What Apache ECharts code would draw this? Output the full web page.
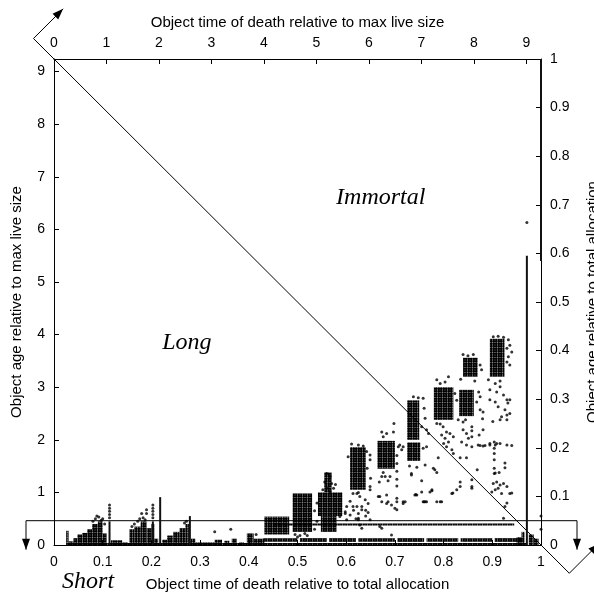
<!DOCTYPE html>
<html>
<head>
<meta charset="utf-8">
<script src="https://cdn.jsdelivr.net/npm/echarts@6/dist/echarts.min.js"></script>
<style>
  html, body { margin: 0; padding: 0; background: #fff; }
  #chart { width: 594px; height: 593px; }
</style>
</head>
<body>
<div id="chart"></div>
<script>
// Axis extents: death time / age relative to total allocation (0..1)
// and relative to max live size (0..~9.25).
const maxLiveTop = 9.28;
const maxLiveLeft = 9.24;

// Dense regions of objects: [deathTime0, deathTime1, age0, age1] (age in max-live units)
const denseBlocks = [
  [0.026, 0.970, 0.00, 0.04],
  [0.025, 0.030, 0.00, 0.27],
  [0.030, 0.040, 0.00, 0.07],
  [0.040, 0.048, 0.00, 0.13],
  [0.048, 0.058, 0.00, 0.20],
  [0.058, 0.068, 0.00, 0.23],
  [0.068, 0.078, 0.00, 0.30],
  [0.078, 0.090, 0.00, 0.40],
  [0.090, 0.100, 0.00, 0.45],
  [0.100, 0.108, 0.00, 0.22],
  [0.117, 0.140, 0.00, 0.09],
  [0.140, 0.152, 0.00, 0.05],
  [0.155, 0.165, 0.00, 0.30],
  [0.165, 0.178, 0.00, 0.35],
  [0.178, 0.190, 0.00, 0.45],
  [0.190, 0.200, 0.00, 0.32],
  [0.200, 0.206, 0.00, 0.40],
  [0.206, 0.214, 0.00, 0.12],
  [0.222, 0.232, 0.00, 0.10],
  [0.232, 0.245, 0.00, 0.18],
  [0.245, 0.258, 0.00, 0.25],
  [0.258, 0.270, 0.00, 0.32],
  [0.270, 0.277, 0.00, 0.40],
  [0.281, 0.290, 0.00, 0.12],
  [0.290, 0.330, 0.00, 0.05],
  [0.330, 0.345, 0.00, 0.10],
  [0.350, 0.360, 0.00, 0.08],
  [0.365, 0.375, 0.00, 0.12],
  [0.380, 0.390, 0.00, 0.05],
  [0.396, 0.410, 0.00, 0.22],
  [0.410, 0.432, 0.00, 0.12],
  [0.430, 0.500, 0.06, 0.13],
  [0.505, 0.560, 0.06, 0.13],
  [0.565, 0.620, 0.06, 0.13],
  [0.625, 0.700, 0.06, 0.13],
  [0.705, 0.760, 0.06, 0.13],
  [0.765, 0.830, 0.06, 0.13],
  [0.835, 0.900, 0.06, 0.13],
  [0.905, 0.965, 0.06, 0.13],
  [0.450, 0.945, 0.37, 0.41],
  [0.432, 0.483, 0.20, 0.54],
  [0.490, 0.530, 0.25, 0.98],
  [0.542, 0.592, 0.55, 1.00],
  [0.548, 0.580, 0.25, 0.55],
  [0.555, 0.570, 1.00, 1.38],
  [0.608, 0.640, 1.05, 1.86],
  [0.664, 0.700, 1.45, 1.98],
  [0.725, 0.750, 2.00, 2.75],
  [0.725, 0.752, 1.60, 1.95],
  [0.780, 0.820, 2.38, 3.00],
  [0.832, 0.862, 2.45, 2.95],
  [0.840, 0.870, 3.20, 3.56],
  [0.895, 0.925, 3.20, 3.92],
  [0.950, 0.960, 0.00, 0.15],
  [0.960, 0.966, 0.00, 0.25],
  [0.975, 0.985, 0.00, 0.20],
  [0.985, 0.995, 0.00, 0.12]
];

// Narrow runs of objects at one death time: [deathTime, age0, age1]
const columns = [
  [0.114, 0.00, 0.45],
  [0.203, 0.00, 0.45],
  [0.218, 0.00, 0.91],
  [0.279, 0.00, 0.55],
  [0.971, 0.00, 5.50],
  [1.000, 5.40, 9.24]
];

// Isolated objects: [deathTime, age]
const scatteredPoints = [
  [0.080,0.45],[0.085,0.50],[0.088,0.55],[0.092,0.53],[0.097,0.47],[0.100,0.50],[0.104,0.40],
  [0.114,0.52],[0.114,0.58],[0.114,0.64],[0.114,0.70],[0.114,0.76],
  [0.160,0.35],[0.165,0.40],[0.172,0.45],[0.176,0.50],[0.183,0.52],[0.187,0.48],[0.180,0.60],[0.190,0.60],[0.190,0.67],
  [0.203,0.52],[0.203,0.58],[0.203,0.64],[0.203,0.70],[0.203,0.76],
  [0.268,0.42],[0.272,0.45],[0.330,0.25],[0.363,0.30],[0.415,0.20],
  [0.495,0.20],[0.505,0.18],[0.515,0.22],[0.500,0.15],[0.520,0.18],[0.535,0.30],[0.540,0.45],[0.535,0.65],[0.540,0.80],
  [0.560,1.36],[0.567,1.30],[0.556,1.20],[0.570,1.17],[0.560,1.08],[0.567,1.01],[0.574,1.08],[0.552,1.05],[0.578,1.15],
  [0.587,0.54],[0.598,0.63],[0.601,0.48],[0.608,0.57],[0.625,0.48],[0.628,0.38],[0.632,0.32],[0.649,0.48],[0.669,0.35],[0.693,0.19],
  [0.615,0.66],[0.625,0.60],[0.640,0.55],[0.645,0.62],[0.620,0.50],[0.625,0.51],[0.673,0.32],
  [0.611,1.92],[0.625,1.90],[0.635,1.88],[0.642,1.78],[0.604,1.68],[0.649,1.71],[0.649,1.62],
  [0.643,1.46],[0.650,1.27],[0.649,1.11],[0.625,1.00],[0.614,0.98],
  [0.622,0.98],[0.628,0.92],[0.639,0.86],[0.645,0.79],[0.622,0.73],[0.632,0.67],[0.601,0.73],[0.598,0.60],
  [0.608,0.83],[0.614,0.73],[0.632,0.73],[0.640,0.66],
  [0.673,2.15],[0.676,2.06],[0.683,2.12],[0.697,2.15],[0.698,2.31],[0.707,1.87],[0.710,1.90],[0.714,1.81],
  [0.673,1.30],[0.680,1.30],[0.676,1.38],[0.690,1.30],[0.668,1.20],[0.686,1.22],
  [0.704,1.70],[0.704,1.55],[0.704,1.40],[0.704,1.25],[0.704,1.12],
  [0.649,1.05],[0.666,0.92],[0.673,0.82],[0.683,0.79],[0.693,0.76],[0.704,0.67],[0.717,0.82],
  [0.669,0.92],[0.683,0.95],[0.686,0.82],[0.704,0.82],[0.700,0.70],[0.717,0.79],[0.704,0.89],
  [0.745,0.95],[0.758,0.82],[0.776,1.05],[0.786,0.82],[0.817,0.98],[0.827,1.05],[0.834,1.11],
  [0.721,0.82],[0.743,0.96],[0.760,0.82],[0.765,0.82],[0.776,1.03],[0.793,0.82],[0.819,0.99],
  [0.834,1.20],[0.858,1.24],[0.858,1.08],[0.858,1.11],[0.741,0.95],[0.755,1.01],[0.762,0.82],[0.772,1.01],[0.796,0.82],
  [0.734,1.33],[0.755,1.22],[0.782,1.43],[0.786,1.38],[0.779,1.46],[0.789,1.66],[0.834,1.66],[0.847,1.66],[0.869,1.43],
  [0.765,2.19],[0.769,2.12],[0.786,2.31],[0.800,1.93],[0.806,1.87],[0.817,1.81],[0.820,1.74],[0.837,1.96],[0.840,2.19],
  [0.830,2.38],[0.840,2.34],
  [0.738,2.82],[0.748,2.80],[0.758,2.79],[0.755,2.25],[0.762,2.41],[0.760,2.60],
  [0.758,1.84],[0.765,1.87],[0.762,1.52],[0.717,1.87],[0.734,1.36],[0.730,1.50],[0.745,1.48],
  [0.786,3.14],[0.793,3.07],[0.803,3.10],[0.810,3.20],[0.823,2.88],[0.827,2.75],
  [0.875,2.82],[0.872,2.91],[0.868,2.72],
  [0.793,2.30],[0.799,2.25],[0.806,2.15],[0.813,2.12],[0.796,2.09],[0.803,2.03],[0.810,1.96],[0.820,2.06],
  [0.840,3.62],[0.850,3.60],[0.861,3.62],[0.875,3.42],[0.878,3.33],[0.835,3.15],[0.864,3.12],
  [0.875,2.57],[0.881,2.53],[0.880,2.40],[0.845,2.38],
  [0.847,2.12],[0.851,2.03],[0.847,1.90],[0.858,1.87],[0.871,1.90],[0.881,1.88],[0.895,1.93],[0.906,1.90],[0.916,1.93],[0.930,1.90],
  [0.875,1.89],[0.885,1.89],[0.940,1.89],[0.858,2.25],[0.858,2.06],[0.858,2.17],[0.873,2.09],[0.881,2.19],
  [0.916,2.38],[0.901,2.35],[0.930,2.47],[0.930,2.38],[0.936,2.76],[0.932,2.70],
  [0.902,3.96],[0.912,3.97],[0.923,3.95],[0.933,3.90],[0.936,3.80],[0.930,3.74],[0.940,3.67],[0.933,3.58],[0.930,3.48],
  [0.936,3.42],[0.916,3.12],[0.906,3.07],[0.916,3.01],[0.909,2.91],[0.923,2.85],[0.930,2.76],[0.906,2.72],[0.912,2.63],
  [0.926,2.57],[0.936,2.50],[0.919,2.44],[0.895,2.95],[0.895,2.76],[0.892,3.14],
  [0.904,1.96],[0.904,1.84],[0.904,1.74],[0.904,1.62],[0.904,1.46],[0.904,1.36],[0.909,1.93],[0.895,1.90],
  [0.906,1.37],[0.914,1.38],[0.926,1.56],[0.926,1.47],
  [0.902,1.17],[0.909,1.20],[0.916,1.14],[0.923,1.17],[0.930,1.11],[0.912,1.08],[0.906,1.05],[0.899,1.01],[0.919,0.98],[0.936,0.98],
  [0.926,0.73],[0.930,0.80],[0.940,0.99],[0.923,0.51],
  [0.971,6.13],[1.000,0.30],[1.000,0.55]
];

// Region names placed in the plot: [label, deathTime, age]
const regionLabels = [
  ['Immortal', 0.671, 6.60],
  ['Long', 0.273, 3.84],
  ['Short', 0.070, -0.70]
];

const BLACK = '#000';
const axisFont = 'Liberation Sans';

// Stipple texture for densely packed object points
const tile = document.createElement('canvas');
tile.width = 5; tile.height = 5;
const tctx = tile.getContext('2d');
tctx.fillStyle = BLACK;
[[1.25, 1.25], [3.75, 1.25], [1.25, 3.75], [3.75, 3.75]].forEach(function (c) {
  tctx.beginPath(); tctx.arc(c[0], c[1], 1.4, 0, Math.PI * 2); tctx.fill();
});
const stipple = { image: tile, repeat: 'repeat' };

const chart = echarts.init(document.getElementById('chart'), null, { renderer: 'canvas' });

function valueAxis(extra) {
  return Object.assign({
    type: 'value',
    splitLine: { show: false },
    axisLine: { show: true, onZero: false, lineStyle: { color: BLACK, width: 1 } },
    axisTick: { show: true, inside: true, length: 5, lineStyle: { color: BLACK } },
    axisLabel: { color: BLACK, fontSize: 14, fontFamily: axisFont, margin: 10 },
    nameTextStyle: { color: BLACK, fontSize: 15, fontFamily: axisFont },
    nameLocation: 'middle'
  }, extra);
}

chart.setOption({
  animation: false,
  backgroundColor: '#fff',
  grid: { left: 54, top: 59, width: 487, height: 486, containLabel: false, outerBoundsMode: 'none' },
  xAxis: [
    valueAxis({ position: 'bottom', min: 0, max: 1, interval: 0.1,
      name: 'Object time of death relative to total allocation', nameGap: 32 }),
    valueAxis({ position: 'top', min: 0, max: maxLiveTop, interval: 1,
      axisLabel: { color: BLACK, fontSize: 14, fontFamily: axisFont, margin: 9, showMaxLabel: false },
      name: 'Object time of death relative to max live size', nameGap: 29 })
  ],
  yAxis: [
    valueAxis({ position: 'left', min: 0, max: maxLiveLeft, interval: 1,
      axisLabel: { color: BLACK, fontSize: 14, fontFamily: axisFont, margin: 9, showMaxLabel: false },
      name: 'Object age relative to max live size', nameGap: 30, nameRotate: 90 }),
    valueAxis({ position: 'right', min: 0, max: 1, interval: 0.1,
      axisLabel: { color: BLACK, fontSize: 14, fontFamily: axisFont, margin: 9 },
      name: 'Object age relative to total allocation', nameGap: 44, nameRotate: 90 })
  ],
  series: [
    {
      type: 'custom',
      xAxisIndex: 0, yAxisIndex: 0,
      data: denseBlocks,
      encode: { x: [0, 1], y: [2, 3] },
      silent: true,
      renderItem: function (params, api) {
        const a = api.coord([api.value(0), api.value(3)]);
        const b = api.coord([api.value(1), api.value(2)]);
        return {
          type: 'rect',
          shape: { x: a[0], y: a[1], width: Math.max(b[0] - a[0], 2), height: Math.max(b[1] - a[1], 1.5) },
          style: { fill: stipple }
        };
      }
    },
    {
      type: 'custom',
      xAxisIndex: 0, yAxisIndex: 0,
      data: columns,
      encode: { x: 0, y: [1, 2] },
      silent: true,
      renderItem: function (params, api) {
        const top = api.coord([api.value(0), api.value(2)]);
        const bot = api.coord([api.value(0), api.value(1)]);
        return {
          type: 'rect',
          shape: { x: top[0] - 1, y: top[1], width: 2, height: bot[1] - top[1] },
          style: { fill: '#111' }
        };
      }
    },
    {
      type: 'scatter',
      xAxisIndex: 0, yAxisIndex: 0,
      data: scatteredPoints,
      symbol: 'circle',
      symbolSize: 3,
      silent: true,
      itemStyle: { color: BLACK },
      clip: false
    }
  ]
});

// Boundary lines between Short / Long / Immortal, with arrows
function arrowHead(tip, dir) {
  const len = 11, half = 4;
  const bx = tip[0] - dir[0] * len, by = tip[1] - dir[1] * len;
  const nx = -dir[1], ny = dir[0];
  return {
    type: 'polygon', silent: true,
    shape: { points: [[tip[0], tip[1]], [bx + nx * half, by + ny * half], [bx - nx * half, by - ny * half]] },
    style: { fill: BLACK }
  };
}
function seg(p, q) {
  return { type: 'line', silent: true, shape: { x1: p[0], y1: p[1], x2: q[0], y2: q[1] }, style: { stroke: BLACK, lineWidth: 1 } };
}

const corner0 = chart.convertToPixel({ xAxisIndex: 0, yAxisIndex: 1 }, [0, 1]);
const corner1 = chart.convertToPixel({ xAxisIndex: 0, yAxisIndex: 1 }, [1, 0]);
const dx = corner1[0] - corner0[0], dy = corner1[1] - corner0[1];
const dl = Math.hypot(dx, dy);
const d = [dx / dl, dy / dl];
const diagStart = [corner0[0] - d[0] * 29, corner0[1] - d[1] * 29];
const diagEnd = [corner1[0] + d[0] * 40, corner1[1] + d[1] * 40];
const perp = [Math.SQRT1_2, -Math.SQRT1_2];
const armLen = 42;
const tipA = [diagStart[0] + perp[0] * armLen, diagStart[1] + perp[1] * armLen];
const tipB = [diagEnd[0] + perp[0] * armLen, diagEnd[1] + perp[1] * armLen];

const shortAge = 0.05;
const hLeft = chart.convertToPixel({ xAxisIndex: 0, yAxisIndex: 1 }, [0, shortAge]);
const hRight = chart.convertToPixel({ xAxisIndex: 0, yAxisIndex: 1 }, [1, shortAge]);
const hA = [hLeft[0] - 28, hLeft[1]];
const hB = [hRight[0] + 36, hRight[1]];
const downLen = 29;
const hAtip = [hA[0], hA[1] + downLen];
const hBtip = [hB[0], hB[1] + downLen];

const graphics = [
  seg(diagStart, diagEnd),
  seg(diagStart, tipA), arrowHead(tipA, perp),
  seg(diagEnd, tipB), arrowHead(tipB, perp),
  seg(hA, hB),
  seg(hA, hAtip), arrowHead(hAtip, [0, 1]),
  seg(hB, hBtip), arrowHead(hBtip, [0, 1])
];

regionLabels.forEach(function (r) {
  const p = chart.convertToPixel({ xAxisIndex: 0, yAxisIndex: 0 }, [r[1], r[2]]);
  graphics.push({
    type: 'text', silent: true, x: p[0], y: p[1],
    style: {
      text: r[0], fill: BLACK, font: 'italic 24px "Liberation Serif", "Times New Roman", serif',
      align: 'center', verticalAlign: 'middle'
    }
  });
});

chart.setOption({ graphic: { elements: graphics } });
</script>
</body>
</html>
